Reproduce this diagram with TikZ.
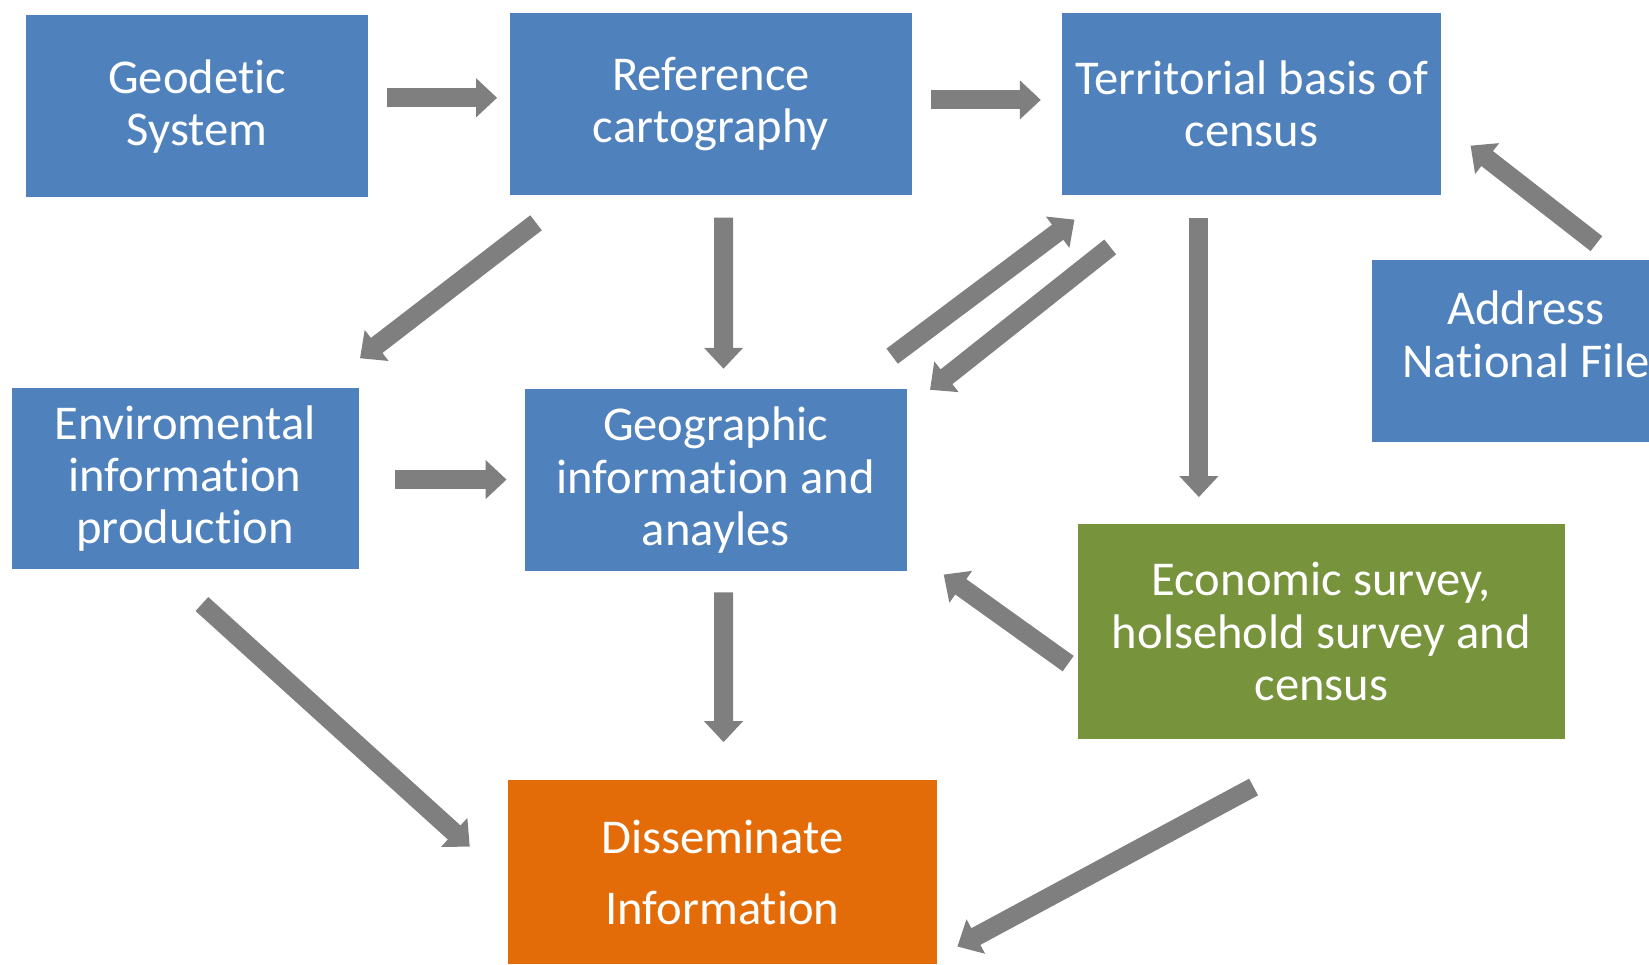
\documentclass[tikz,border=0pt]{standalone}
\usepackage{fontspec}
\setmainfont{Carlito}[Ligatures=NoCommon]
\usetikzlibrary{arrows.meta,calc}
\definecolor{boxblue}{HTML}{4F81BD}
\definecolor{boxgreen}{HTML}{77933C}
\definecolor{boxorange}{HTML}{E36C09}
\definecolor{arrowgray}{HTML}{7F7F7F}
\begin{document}
\begin{tikzpicture}[x=0.02cm,y=-0.02cm,
  box/.style={fill=boxblue,text=white,align=center,inner sep=0pt,font=\fontsize{26.3}{28.2}\selectfont},
  flow/.style={draw=arrowgray,line width=0.36cm,-{Triangle[width=0.72cm,length=0.4cm]}}]
\useasboundingbox (0,0) rectangle (1568,917);
\clip (0,0) rectangle (1568,917);
\node[box,minimum width=6.5cm,minimum height=3.46cm](geo) at (187.5,101){Geodetic\\System};
\node[box,minimum width=7.64cm,minimum height=3.46cm](ref) at (676,99){Reference\\cartography};
\node[box,minimum width=7.2cm,minimum height=3.46cm](terr) at (1190,99){Territorial basis of\\census};
\node[box,minimum width=5.84cm,minimum height=3.46cm,text depth=18pt](addr) at (1451,333.5){Address\\National File};
\node[box,minimum width=6.6cm,minimum height=3.44cm](env) at (176,455){Enviromental\\information\\production};
\node[box,minimum width=7.26cm,minimum height=3.46cm](gis) at (680.5,456.5){Geographic\\information and\\anayles};
\node[box,fill=boxgreen,minimum width=9.26cm,minimum height=4.1cm](econ) at (1256.5,600.5){Economic survey,\\holsehold survey and\\census};
\node[box,fill=boxorange,minimum width=8.16cm,minimum height=3.5cm](diss) at (687,829.5){Disseminate\\[10pt]Information};
\draw[flow]($(geo.east)+(18,-8)$)--($(ref.west)+(-12,-6)$);
\draw[flow]($(ref.east)+(18,-4)$)--($(terr.west)+(-20,-4)$);
\draw[flow]($(ref.south west)+(25,26)$)--($(env.north east)+(1,-28)$);
\draw[flow]($(ref.south)+(12,21)$)--($(gis.north)+(7.5,-19)$);
\draw[flow]($(gis.north east)+(-14,-31)$)--($(terr.south west)+(12,23)$);
\draw[flow]($(terr.south west)+(46,49)$)--($(gis.north east)+(22,1)$);
\draw[flow]($(terr.south)+(-50,21)$)--($(econ.north)+(-116.5,-25)$);
\draw[flow]($(addr.north)+(67,-15)$)--($(terr.east)+(28,39.5)$);
\draw[flow]($(env.east)+(34,1)$)--($(gis.west)+(-17,-0.5)$);
\draw[flow]($(econ.west)+(-9,30.5)$)--($(gis.south east)+(35,3)$);
\draw[flow]($(gis.south)+(7.5,20)$)--($(diss.north)+(1,-36)$);
\draw[flow]($(env.south)+(16,33)$)--($(diss.west)+(-36,-24.5)$);
\draw[flow]($(econ.south)+(-64.5,45)$)--($(diss.east)+(19,70.5)$);
\end{tikzpicture}
\end{document}
